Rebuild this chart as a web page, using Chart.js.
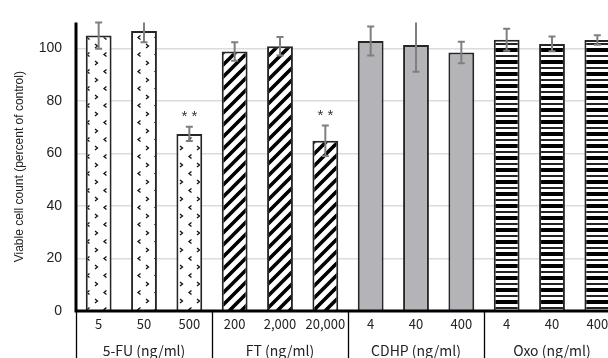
<!DOCTYPE html>
<html>
<head>
<meta charset="utf-8">
<script src="https://cdn.jsdelivr.net/npm/chart.js@4.4.1/dist/chart.umd.min.js"></script>
<style>
  html, body { margin: 0; padding: 0; background: #fff; overflow: hidden; }
  #wrap { width: 620px; height: 358px; position: relative; }
</style>
</head>
<body>
<div id="wrap"><canvas id="myChart"></canvas></div>
<script>
// doses for each bar, and which drug group they belong to
const doseLabels = ['5', '50', '500', '200', '2,000', '20,000', '4', '40', '400', '4', '40', '400'];
const groupLabels = ['5-FU (ng/ml)', 'FT (ng/ml)', 'CDHP (ng/ml)', 'Oxo (ng/ml)'];
const groupOf = [0, 0, 0, 1, 1, 1, 2, 2, 2, 3, 3, 3];

// viable cell count (% of control) and error bars
const viable = [105, 106.7, 67.5, 98.9, 100.9, 64.9, 102.9, 101.4, 98.5, 103.4, 101.8, 103.3];
const errors = [5, 4.3, 2.7, 3.5, 3.5, 5.8, 5.5, 10.2, 4.1, 4.2, 2.8, 1.8];
const marks = ['', '', '**', '', '', '**', '', '', '', '', '', ''];

function makePattern(kind) {
    const c = document.createElement('canvas');
    const g = c.getContext('2d');
    if (kind === 0) {
        // little chevrons on white
        c.width = 17; c.height = 17;
        g.fillStyle = '#fff';
        g.fillRect(0, 0, 17, 17);
        g.strokeStyle = '#111';
        g.lineWidth = 1.3;
        g.beginPath();
        g.moveTo(4.5, 1.5); g.lineTo(2, 3.5); g.lineTo(4.5, 5.5);
        g.moveTo(10, 10); g.lineTo(12.5, 12); g.lineTo(10, 14);
        g.stroke();
    } else if (kind === 1) {
        // diagonal stripes
        c.width = 12; c.height = 12;
        g.fillStyle = '#fff';
        g.fillRect(0, 0, 12, 12);
        g.strokeStyle = '#000';
        g.lineWidth = 3.6;
        g.beginPath();
        for (let k = -1; k <= 1; k++) {
            g.moveTo(-2 + k * 12, 14);
            g.lineTo(14 + k * 12, -2);
        }
        g.stroke();
    } else if (kind === 3) {
        // horizontal bands
        c.width = 4; c.height = 12;
        g.fillStyle = '#fff';
        g.fillRect(0, 0, 4, 12);
        g.fillStyle = '#000';
        g.fillRect(0, 0, 4, 4);
        g.fillStyle = '#222';
        g.fillRect(0, 7, 4, 2);
    } else {
        return '#b4b4b8';
    }
    return g.createPattern(c, 'repeat');
}

const groupFills = [0, 1, 2, 3].map(makePattern);

// draws the error bars, the ** marks, group names and the dividers below the axis
const extrasPlugin = {
    id: 'extras',
    afterDatasetsDraw(chart) {
        const ctx = chart.ctx;
        const x = chart.scales.x;
        const y = chart.scales.y;
        const area = chart.chartArea;
        ctx.save();
        ctx.beginPath();
        ctx.rect(area.left, 0, area.right - area.left, area.bottom);
        ctx.clip();
        ctx.strokeStyle = '#7f7f7f';
        ctx.lineWidth = 2;
        viable.forEach((v, i) => {
            const px = x.getPixelForValue(i);
            const top = Math.max(y.getPixelForValue(v + errors[i]), area.top);
            const bot = y.getPixelForValue(v - errors[i]);
            ctx.beginPath();
            ctx.moveTo(px, top); ctx.lineTo(px, bot);
            if (y.getPixelForValue(v + errors[i]) >= area.top) {
                ctx.moveTo(px - 3.5, top); ctx.lineTo(px + 3.5, top);
            }
            ctx.moveTo(px - 3.5, bot); ctx.lineTo(px + 3.5, bot);
            ctx.stroke();
        });
        ctx.fillStyle = '#333';
        ctx.font = '15px "Liberation Sans"';
        ctx.textAlign = 'center';
        ctx.textBaseline = 'middle';
        marks.forEach((m, i) => {
            if (!m) return;
            const px = x.getPixelForValue(i);
            const py = y.getPixelForValue(viable[i] + errors[i]) - 12;
            ctx.fillText('* *', px, py + 2);
        });
        ctx.restore();

        // axis lines on top
        ctx.save();
        ctx.strokeStyle = '#000';
        ctx.lineWidth = 3;
        ctx.beginPath();
        ctx.moveTo(area.left, area.top);
        ctx.lineTo(area.left, area.bottom + 1.5);
        ctx.moveTo(area.left - 1.5, area.bottom);
        ctx.lineTo(area.right, area.bottom);
        ctx.stroke();
        ctx.lineWidth = 1.3;
        ctx.strokeStyle = '#000';
        ctx.beginPath();
        for (let b = 0; b <= 12; b += 3) {
            const px = Math.round(x.getPixelForValue(b - 0.5)) + 0.5;
            ctx.moveTo(px, area.bottom);
            ctx.lineTo(px, chart.height);
        }
        ctx.stroke();

        ctx.fillStyle = '#222';
        ctx.font = '14px "Noto Sans CJK JP"';
        ctx.textAlign = 'center';
        ctx.textBaseline = 'middle';
        groupLabels.forEach((g, k) => {
            ctx.fillText(g, x.getPixelForValue(k * 3 + 1), 351);
        });
        ctx.restore();
    }
};

function mainEvent() {
    const ctx = document.querySelector('#myChart');
    new Chart(ctx, {
        type: 'bar',
        data: {
            labels: doseLabels,
            datasets: [{
                data: viable,
                backgroundColor: doseLabels.map((d, i) => groupFills[groupOf[i]]),
                borderColor: '#262626',
                borderWidth: 2,
                borderSkipped: 'bottom',
                categoryPercentage: 1,
                barPercentage: 0.57
            }]
        },
        options: {
            responsive: true,
            maintainAspectRatio: false,
            animation: false,
            layout: { padding: { top: 14, left: 0, right: 0, bottom: 0 } },
            plugins: { legend: { display: false }, tooltip: { enabled: false } },
            scales: {
                y: {
                    min: 0,
                    max: 110,
                    ticks: {
                        stepSize: 20,
                        color: '#222',
                        padding: 14,
                        font: { family: 'Liberation Sans', size: 14 },
                        callback: v => (v % 20 === 0 ? v : '')
                    },
                    grid: {
                        color: c => (c.tick.value % 20 === 0 && c.tick.value > 0 ? '#dcdcdc' : 'rgba(0,0,0,0)'),
                        lineWidth: 1.5,
                        drawTicks: false
                    },
                    border: { display: false },
                    title: {
                        display: true,
                        text: 'Viable cell count (percent of control)',
                        color: '#222',
                        font: { family: 'Liberation Sans', size: 12 },
                        padding: { top: 12, bottom: 0 }
                    },
                    afterFit: s => { s.width = 76; }
                },
                x: {
                    grid: { display: false },
                    border: { display: false },
                    ticks: {
                        color: '#222',
                        padding: -3,
                        maxRotation: 0,
                        autoSkip: false,
                        font: { family: 'Noto Sans CJK JP', size: 13 }
                    },
                    afterFit: s => { s.height = 47; }
                }
            }
        },
        plugins: [extrasPlugin]
    });
}

document.addEventListener('DOMContentLoaded', () => mainEvent());
</script>
</body>
</html>
